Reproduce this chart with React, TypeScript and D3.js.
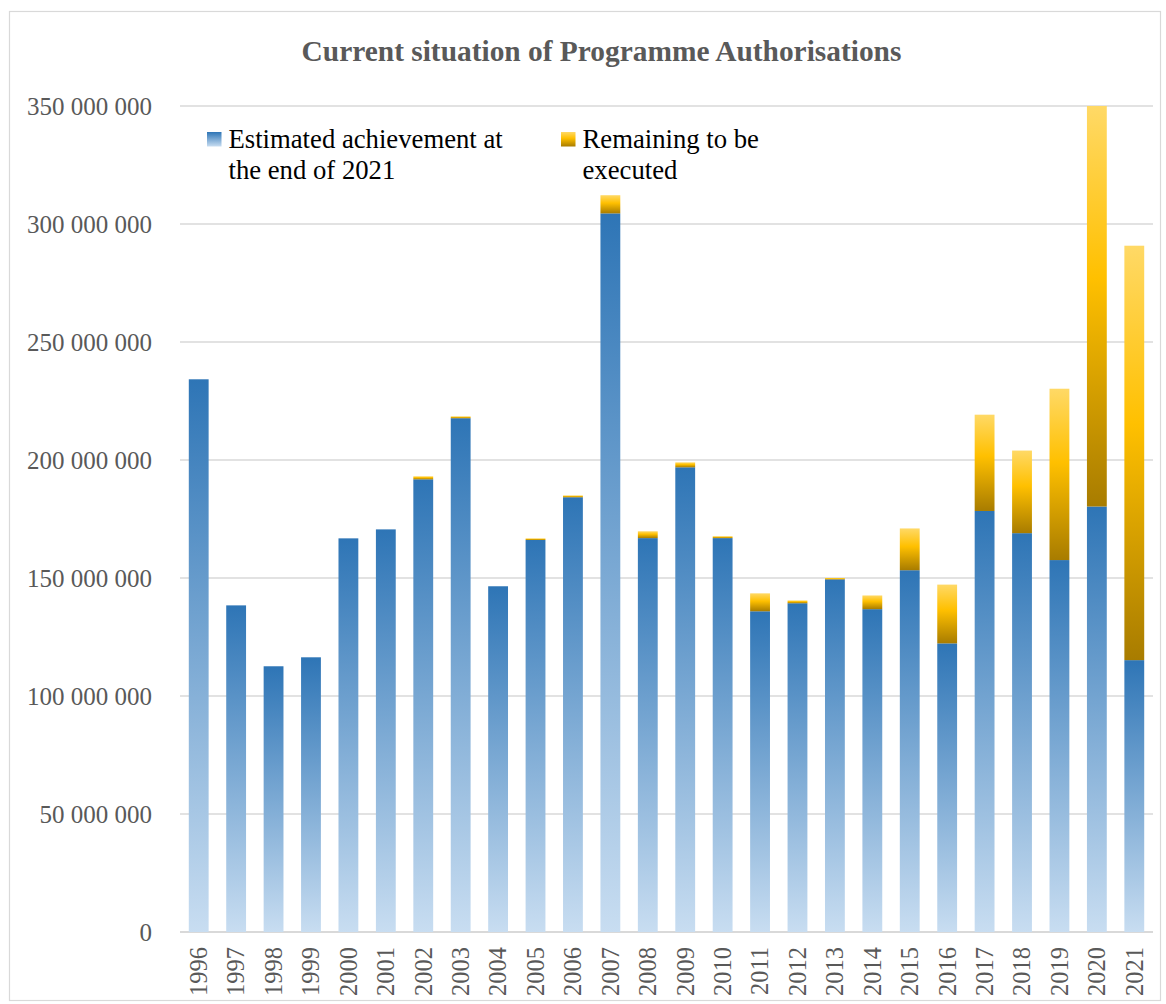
import React from "react";
import * as d3 from "d3";

const years = ["1996","1997","1998","1999","2000","2001","2002","2003","2004","2005","2006","2007","2008","2009","2010","2011","2012","2013","2014","2015","2016","2017","2018","2019","2020","2021"];
const achieved = [234200000,138400000,112600000,116400000,166800000,170600000,191800000,217700000,146500000,166100000,184200000,304500000,166900000,196900000,166900000,135900000,139300000,149400000,136800000,153300000,122300000,178400000,169000000,157600000,180300000,115200000];
const remaining = [0,0,0,0,0,0,1300000,800000,0,700000,800000,7700000,2900000,2100000,800000,7600000,1200000,600000,5800000,17700000,24900000,40800000,35000000,72600000,169700000,175600000];
const yTicks = [0,50000000,100000000,150000000,200000000,250000000,300000000,350000000];
const seriesNames = ["Estimated achievement at|the end of 2021", "Remaining to be|executed"];
const title = "Current situation of Programme Authorisations";

const FONT = "'Liberation Serif', 'Times New Roman', serif";

export default function App() {
  const W = 1166, H = 1004;
  const left = 180, right = 1153, top = 106, bottom = 932;

  const x = d3.scaleBand<string>().domain(years).range([left, right]).paddingInner(0.47).paddingOuter(0.235);
  const y = d3.scaleLinear().domain([0, 350000000]).range([bottom, top]);

  const rows = years.map((yr, i) => ({ year: yr, a: achieved[i], r: remaining[i] }));
  const stacked = d3.stack<any>().keys(["a", "r"])(rows);
  const fmt = (v: number) => d3.format(",")(v).replace(/,/g, " ");

  const fills = ["url(#gBlue)", "url(#gGold)"];

  return (
    <svg width={W} height={H} style={{ position: "absolute", left: 0, top: 0, background: "#fff" }} fontFamily={FONT}>
      <defs>
        <linearGradient id="gBlue" x1="0" y1="0" x2="0" y2="1">
          <stop offset="0" stopColor="#2E75B6" />
          <stop offset="1" stopColor="#C8DDF1" />
        </linearGradient>
        <linearGradient id="gGold" x1="0" y1="0" x2="0" y2="1">
          <stop offset="0" stopColor="#FFD966" />
          <stop offset="0.43" stopColor="#FFC000" />
          <stop offset="1" stopColor="#A87C00" />
        </linearGradient>
      </defs>
      <rect x={0} y={0} width={W} height={H} fill="#fff" />
      <rect x={9.5} y={11.5} width={1151} height={989} fill="none" stroke="#D9D9D9" strokeWidth={1.2} />

      <text x={601.5} y={61} textAnchor="middle" fontSize={29.4} fontWeight="bold" fill="#595959">{title}</text>

      {yTicks.map((t) => (
        <g key={t}>
          <line x1={left} x2={right} y1={y(t)} y2={y(t)} stroke="#D9D9D9" strokeWidth={t === 0 ? 1.8 : 1.5} />
          <text x={152} y={y(t)} dy="0.34em" textAnchor="end" fontSize={25} fill="#595959">{fmt(t)}</text>
        </g>
      ))}

      {stacked.map((s, si) => (
        <g key={si}>
          {s.map((d: any) => {
            const h = y(d[0]) - y(d[1]);
            if (h <= 0) return null;
            return (
              <rect key={d.data.year} x={x(d.data.year)} y={y(d[1])} width={x.bandwidth()} height={h} fill={fills[si]} />
            );
          })}
        </g>
      ))}

      {years.map((yr) => (
        <text key={yr} transform={`translate(${(x(yr) as number) + x.bandwidth() / 2},947) rotate(-90)`} dy="0.34em" textAnchor="end" fontSize={24.5} fill="#595959">{yr}</text>
      ))}

      {seriesNames.map((name, i) => {
        const lx = i === 0 ? 207 : 561;
        const lines = name.split("|");
        return (
          <g key={i}>
            <rect x={lx} y={132} width={14.5} height={14.5} fill={fills[i]} />
            {lines.map((ln, j) => (
              <text key={j} x={lx + 21.5} y={148 + j * 31} fontSize={26.7} fill="#000">{ln}</text>
            ))}
          </g>
        );
      })}
    </svg>
  );
}
